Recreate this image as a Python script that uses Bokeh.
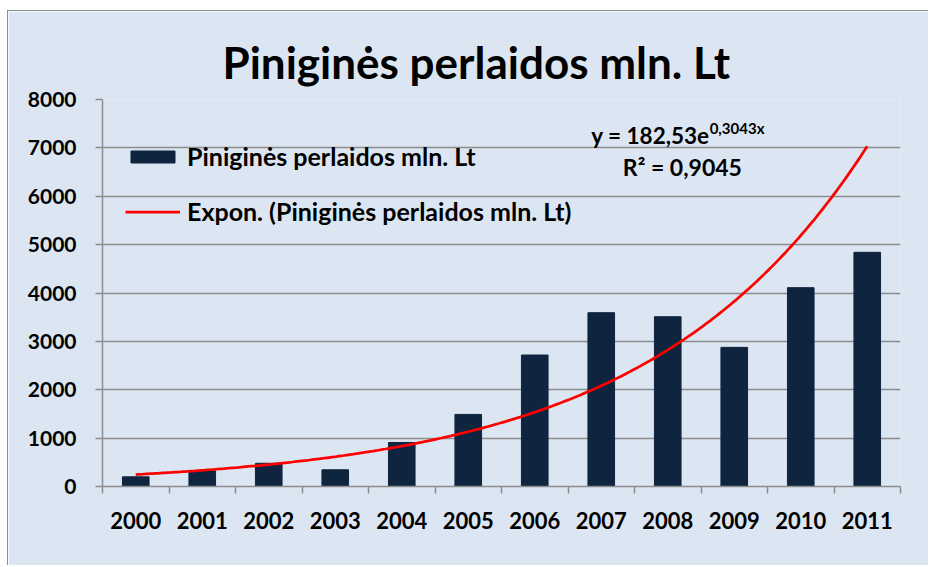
import numpy as np
from bokeh.plotting import figure
from bokeh.models import (ColumnDataSource, FixedTicker, Legend, LegendItem, Label, Range1d)
from bokeh.embed import file_html
from bokeh.resources import INLINE

# ---- data ----
years = ["2000", "2001", "2002", "2003", "2004", "2005",
         "2006", "2007", "2008", "2009", "2010", "2011"]
transfers = [200, 325, 480, 345, 910, 1490, 2718, 3593, 3510, 2876, 4110, 4841]
y_ticks = [0, 1000, 2000, 3000, 4000, 5000, 6000, 7000, 8000]
trend_a = 182.53     # exponential trendline y = a * e^(b x), as printed on chart
trend_b = 0.3043
trend_eq = "y = 182,53e"
trend_eq_exp = "0,3043x"
trend_r2 = "R² = 0,9045"
title_text = "Piniginės perlaidos mln. Lt"
series_name = "Piniginės perlaidos mln. Lt"
trend_name = "Expon. (Piniginės perlaidos mln. Lt)"

# ---- styling ----
BG = "#dce6f2"
BAR = "#0f243e"
GRID = "#8c8c8c"
FONT = "Lato"

xpos = list(range(1, len(years) + 1))
src = ColumnDataSource(dict(x=xpos, top=transfers))

tx = np.linspace(1, len(years), 300)
ty = trend_a * np.exp(trend_b * tx)
tsrc = ColumnDataSource(dict(x=tx, y=ty))

p = figure(width=921, height=555, output_backend="svg", toolbar_location=None,
           x_range=Range1d(0.5, len(years) + 0.5), y_range=Range1d(0, 8000),
           min_border_left=94, min_border_right=29, min_border_top=88, min_border_bottom=80)
p.styles = {"margin-left": "7px", "margin-top": "10px",
            "border-left": "1px solid #8c8c8c", "border-top": "1px solid #8c8c8c"}
p.background_fill_color = BG
p.border_fill_color = BG
p.outline_line_color = None

bars = p.vbar(x="x", top="top", width=0.4, source=src, fill_color=BAR, line_color=BAR)
trend = p.line(x="x", y="y", source=tsrc, line_color="#ff0000", line_width=2.75)

# title
p.title.text = title_text
p.title.text_font = FONT
p.title.text_font_size = "44px"
p.title.text_font_style = "bold"
p.title.text_color = "black"
p.title.align = "left"
p.title.offset = 120
p.title.standoff = 23

# axes
xa = p.xaxis[0]
xa.ticker = FixedTicker(ticks=xpos, minor_ticks=[v - 0.5 for v in xpos] + [len(years) + 0.5])
xa.major_label_overrides = {x: y for x, y in zip(xpos, years)}
xa.major_tick_line_color = None
xa.major_tick_out = 7
xa.minor_tick_out = 7
xa.minor_tick_in = 0
xa.minor_tick_line_color = GRID
xa.minor_tick_line_width = 1.5
xa.axis_line_color = GRID
xa.axis_line_width = 1.5
xa.major_label_text_font = FONT
xa.major_label_text_font_size = "22px"
xa.major_label_text_font_style = "bold"
xa.major_label_text_color = "black"
xa.major_label_standoff = 18

ya = p.yaxis[0]
ya.ticker = FixedTicker(ticks=y_ticks)
ya.major_tick_out = 7
ya.major_tick_in = 0
ya.major_tick_line_color = GRID
ya.major_tick_line_width = 1.5
ya.minor_tick_line_color = None
ya.axis_line_color = GRID
ya.axis_line_width = 1.5
ya.major_label_text_font = FONT
ya.major_label_text_font_size = "21px"
ya.major_label_text_font_style = "bold"
ya.major_label_text_color = "black"
ya.major_label_standoff = 19

p.xgrid.grid_line_color = None
p.ygrid.ticker = FixedTicker(ticks=y_ticks)
p.ygrid.grid_line_color = GRID
p.ygrid.grid_line_width = 1.5

# legend
legend = Legend(items=[LegendItem(label=series_name, renderers=[bars]),
                       LegendItem(label=trend_name, renderers=[trend])],
                location=(23, 260), orientation="vertical",
                background_fill_alpha=0, border_line_color=None,
                glyph_width=55, glyph_height=15, label_height=28, spacing=25,
                label_standoff=7, padding=0, margin=0,
                label_text_font=FONT, label_text_font_size="25px",
                label_text_font_style="bold", label_text_color="black")
p.add_layout(legend, "center")

# trendline equation
p.add_layout(Label(x=9.63, y=7256, text=trend_eq, text_align="right", text_baseline="alphabetic",
                   text_font=FONT, text_font_size="22.5px", text_font_style="bold", text_color="black"))
p.add_layout(Label(x=9.63, y=7420, text=trend_eq_exp, text_align="left", text_baseline="alphabetic",
                   text_font=FONT, text_font_size="15px", text_font_style="bold", text_color="black"))
p.add_layout(Label(x=9.22, y=6601, text=trend_r2, text_align="center", text_baseline="alphabetic",
                   text_font=FONT, text_font_size="23px", text_font_style="bold", text_color="black"))

open("out.html", "w").write(file_html(p, INLINE))
